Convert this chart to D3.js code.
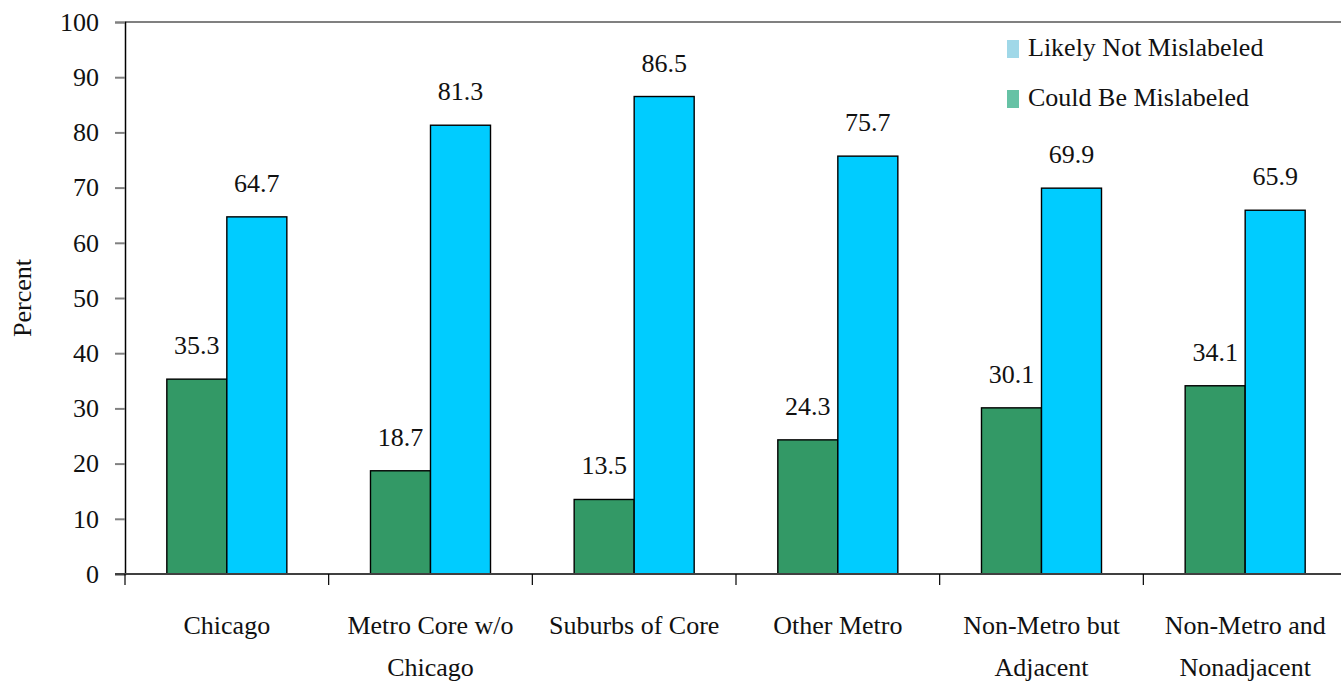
<!DOCTYPE html>
<html>
<head>
<meta charset="utf-8">
<script src="https://cdn.jsdelivr.net/npm/d3@7"></script>
<style>
  body { margin: 0; background: #fff; }
</style>
</head>
<body>
<svg id="chart" width="1341" height="684"></svg>
<script>
let categories = ["Chicago", "Metro Core w/o Chicago", "Suburbs of Core", "Other Metro", "Non-Metro but Adjacent", "Non-Metro and Nonadjacent"];
let categoryLines = [["Chicago"], ["Metro Core w/o", "Chicago"], ["Suburbs of Core"], ["Other Metro"], ["Non-Metro but", "Adjacent"], ["Non-Metro and", "Nonadjacent"]];
let couldBeMislabeled = [35.3, 18.7, 13.5, 24.3, 30.1, 34.1];
let likelyNotMislabeled = [64.7, 81.3, 86.5, 75.7, 69.9, 65.9];
let yTicks = [0, 10, 20, 30, 40, 50, 60, 70, 80, 90, 100];

let series = [
    {key: "could", name: "Could Be Mislabeled", values: couldBeMislabeled, fill: "#339966", legend: "#66c2a5"},
    {key: "likely", name: "Likely Not Mislabeled", values: likelyNotMislabeled, fill: "#00ccff", legend: "#a0d8e8"}
];

let fontFamily = "'Liberation Serif', 'Times New Roman', 'DejaVu Serif', serif";
let fontSize = "26px";

let svg = d3.select("#chart");
let margin = {top: 22, right: -6, bottom: 110, left: 125};
let width = 1341, height = 684;

let x0 = d3.scaleBand().domain(categories).range([margin.left, width - margin.right]);
let x1 = d3.scaleBand().domain(series.map(s => s.key)).range([0, x0.bandwidth()]).paddingOuter(0.697);
let y = d3.scaleLinear([0, 100], [height - margin.bottom, margin.top]);

function styleText(sel)
{
    sel.style("font-family", fontFamily).style("font-size", fontSize).attr("fill", "#111");
}

// top border of plot area
svg.append("line")
    .attr("x1", margin.left).attr("x2", width)
    .attr("y1", y(100)).attr("y2", y(100))
    .attr("stroke", "#808080").attr("stroke-width", 2);

// y axis
let yAxis = svg.append("g")
    .attr("transform", `translate(${margin.left},0)`)
    .call(d3.axisLeft(y).tickValues(yTicks).tickSize(10).tickPadding(16));
yAxis.select(".domain").attr("stroke", "#000").attr("stroke-width", 1.5);
yAxis.selectAll(".tick line").attr("stroke", "#808080").attr("stroke-width", 2);
yAxis.selectAll(".tick text").call(styleText);

// bars
let groups = svg.append("g")
    .selectAll("g")
    .data(categories)
    .join("g")
    .attr("transform", d => `translate(${x0(d)},0)`);

groups.selectAll("rect")
    .data((d, i) => series.map(s => ({key: s.key, value: s.values[i], fill: s.fill})))
    .join("rect")
    .attr("x", d => x1(d.key))
    .attr("width", x1.bandwidth())
    .attr("y", d => y(d.value))
    .attr("height", d => y(0) - y(d.value))
    .attr("fill", d => d.fill)
    .attr("stroke", "#000")
    .attr("stroke-width", 1.4);

groups.selectAll("text.value")
    .data((d, i) => series.map(s => ({key: s.key, value: s.values[i]})))
    .join("text")
    .attr("class", "value")
    .attr("x", d => x1(d.key) + x1.bandwidth() / 2)
    .attr("y", d => y(d.value) - 25)
    .attr("text-anchor", "middle")
    .call(styleText)
    .text(d => d.value.toFixed(1));

// x axis
let xAxis = svg.append("g")
    .attr("transform", `translate(0,${y(0)})`);
xAxis.append("line")
    .attr("x1", margin.left - 10).attr("x2", width)
    .attr("stroke", "#404040").attr("stroke-width", 2);
xAxis.selectAll("line.tick")
    .data(categories)
    .join("line")
    .attr("class", "tick")
    .attr("x1", d => x0(d)).attr("x2", d => x0(d))
    .attr("y1", 0).attr("y2", 11)
    .attr("stroke", "#000").attr("stroke-width", 1.2);

xAxis.selectAll("text.cat")
    .data(categories)
    .join("text")
    .attr("class", "cat")
    .attr("text-anchor", "middle")
    .attr("transform", d => `translate(${x0(d) + x0.bandwidth() / 2},0)`)
    .call(styleText)
    .each(function (d, i)
    {
        d3.select(this).selectAll("tspan")
            .data(categoryLines[i])
            .join("tspan")
            .attr("x", 0)
            .attr("y", (t, j) => 60 + j * 42)
            .text(t => t);
    });

// y label
svg.append("text")
    .attr("transform", `translate(31,${(y(0) + y(100)) / 2}) rotate(-90)`)
    .attr("text-anchor", "middle")
    .call(styleText)
    .text("Percent");

// legend
let legend = svg.append("g")
    .selectAll("g")
    .data(series.slice().reverse())
    .join("g")
    .attr("transform", (d, i) => `translate(1007,${40 + i * 50})`);
legend.append("rect")
    .attr("width", 12).attr("height", 18)
    .attr("fill", d => d.legend);
legend.append("text")
    .attr("x", 21).attr("y", 16)
    .call(styleText)
    .text(d => d.name);
</script>
</body>
</html>
